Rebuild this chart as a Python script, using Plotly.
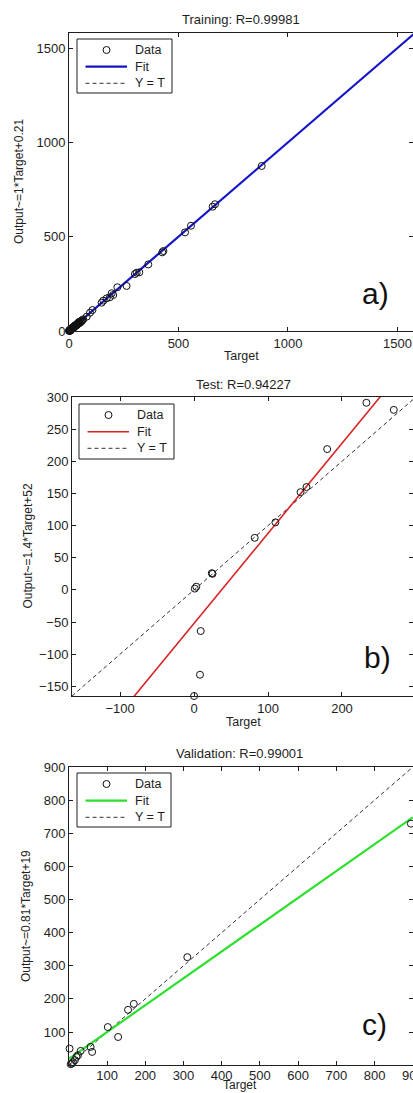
import plotly.graph_objects as go

W, H = 413, 1093
FONT = "Liberation Sans, Arial, sans-serif"
INK = "#1e1e1e"
DASH = "4px,3px"

# ---- Training set ----
train_target = [0, 2, 4, 6, 8, 10, 12, 14, 16, 18, 20, 22, 25, 27, 30, 33, 36, 39, 42, 45,
                48, 52, 55, 58, 62, 3, 7, 11, 19, 28, 35, 44, 1, 5, 9, 13, 17, 24, 31, 38,
                47, 53, 65, 81, 96, 107, 149, 157, 172, 187,
                195, 202, 221, 263, 301, 309, 321, 362, 426, 431, 530, 557, 656, 667, 880, 1580]
train_output = [1, 0, 5, 4, 9, 8, 13, 12, 15, 20, 17, 24, 22, 28, 27, 32, 33, 40, 38, 44,
                42, 50, 48, 55, 58, 6, 2, 14, 16, 31, 30, 47, 3, 2, 11, 10, 19, 21, 29, 35,
                45, 52, 62, 76, 97, 111, 150, 161, 173, 179,
                200, 191, 232, 239, 302, 309, 311, 353, 417, 424, 523, 558, 659, 672, 875, 1580]
train_fit = (1.0, 0.21)
train_lim = [0, 1580]

# ---- Test set ----
test_target = [233, 270, 180, 152, 144, 110, 82, 24, 25, 3, 1, 9, 8, 0]
test_output = [291, 280, 219, 160, 152, 105, 81, 26, 25, 5, 2, -64, -132, -165]
test_fit = (1.4, -52)
test_lim = [-165, 300]

# ---- Validation set ----
val_target = [895, 310, 170, 155, 102, 129, 57, 61, 2, 0, 31, 24, 20, 16, 11, 8, 5]
val_output = [729, 326, 185, 167, 115, 85, 55, 40, 50, 30, 43, 30, 25, 15, 9, 5, 3]
val_fit = (0.81, 19)
val_lim = [0.5, 900]

legend_labels = ["Data", "Fit", "Y = T"]

panels = [
    dict(t=train_target, o=train_output, fit=train_fit, lim=train_lim, color="#1414c8",
         title="Training: R=0.99981", ylab="Output~=1*Target+0.21", tag="a)",
         box=(69, 33, 331), xr=[0, 1571], dx=500, dy=500, fitw=2.2, standoff=0),
    dict(t=test_target, o=test_output, fit=test_fit, lim=test_lim, color="#d82424",
         title="Test: R=0.94227", ylab="Output~=1.4*Target+52", tag="b)",
         box=(72, 397, 696), xr=[-165, 296], dx=100, dy=50, fitw=1.6, standoff=0),
    dict(t=val_target, o=val_output, fit=val_fit, lim=val_lim, color="#2ee02e",
         title="Validation: R=0.99001", ylab="Output~=0.81*Target+19", tag="c)",
         box=(69, 767, 1065), xr=[0.5, 900.5], dx=100, dy=100, fitw=2.2, standoff=-2),
]

# pixel placement of titles, axis labels, panel tags and legend boxes
title_pos = [(241, 19), (243, 384), (240, 753)]
ylab_x = [19, 27, 26]
# x-axis label: (pixel y, anchor, size); the last one sits on the bottom edge of the page
xlab_y = [(356, "middle", 12.5), (722, "middle", 12.5), (1093, "bottom", 12)]
tag_pos = [(375, 294), (377, 657), (374, 1024)]
legend_box = [(77, 39, 172, 93), (79, 404, 174, 459), (77, 773, 171, 827)]


def px(x):
    return x / W


def py(y):
    return 1 - y / H


fig = go.Figure()
annotations = []
shapes = []

for i, p in enumerate(panels):
    n = "" if i == 0 else str(i + 1)
    xa, ya = "x" + n, "y" + n
    lim = p["lim"]
    m, b = p["fit"]

    fig.add_trace(go.Scatter(
        x=lim, y=lim, mode="lines", name="Y = T", xaxis=xa, yaxis=ya,
        line=dict(color="#333333", width=1, dash=DASH)))
    fig.add_trace(go.Scatter(
        x=lim, y=[m * v + b for v in lim], mode="lines", name="Fit", xaxis=xa, yaxis=ya,
        line=dict(color=p["color"], width=p["fitw"])))
    fig.add_trace(go.Scatter(
        x=p["t"], y=p["o"], mode="markers", name="Data", xaxis=xa, yaxis=ya,
        cliponaxis=False,
        marker=dict(symbol="circle-open", size=7, color="#111111", line=dict(width=1))))

    left, top, bottom = p["box"]
    axis_common = dict(showline=True, linecolor=INK, linewidth=1, mirror="ticks",
                       ticks="inside", ticklen=4, tickwidth=1, tickcolor=INK,
                       showgrid=False, zeroline=False, automargin=False,
                       tickfont=dict(family=FONT, size=13, color=INK))
    xkw = dict(axis_common, domain=[px(left), 1], range=p["xr"], anchor=ya,
               dtick=p["dx"], ticklabeloverflow="allow", ticklabelstandoff=p["standoff"])
    ykw = dict(axis_common, domain=[py(bottom), py(top)], range=lim, anchor=xa,
               dtick=p["dy"])
    fig.update_layout(**{"xaxis" + n: xkw, "yaxis" + n: ykw})

    # boxed legend: circle key, solid fit key, dashed identity key
    bx0, by0, bx1, by1 = legend_box[i]
    shapes.append(dict(type="rect", xref="paper", yref="paper",
                       x0=px(bx0), x1=px(bx1), y0=py(by1), y1=py(by0),
                       line=dict(color=INK, width=1), fillcolor="white", layer="above"))
    rows = [by0 + 11, by0 + 27.7, by0 + 44.3]
    kx0, kx1, kc = bx0 + 8.5, bx0 + 50, bx0 + 29.5
    shapes.append(dict(type="circle", xref="paper", yref="paper",
                       x0=px(kc - 3.5), x1=px(kc + 3.5), y0=py(rows[0] + 3.5), y1=py(rows[0] - 3.5),
                       line=dict(color="#111111", width=1), layer="above"))
    shapes.append(dict(type="line", xref="paper", yref="paper",
                       x0=px(kx0), x1=px(kx1), y0=py(rows[1]), y1=py(rows[1]),
                       line=dict(color=p["color"], width=p["fitw"]), layer="above"))
    shapes.append(dict(type="line", xref="paper", yref="paper",
                       x0=px(kx0), x1=px(kx1), y0=py(rows[2]), y1=py(rows[2]),
                       line=dict(color="#333333", width=1, dash=DASH), layer="above"))
    for label, ry in zip(legend_labels, rows):
        annotations.append(dict(text=label, x=px(bx0 + 56), y=py(ry), xref="paper",
                                yref="paper", showarrow=False, xanchor="left",
                                yanchor="middle",
                                font=dict(family=FONT, size=12.5, color=INK)))

    tx, ty = title_pos[i]
    annotations.append(dict(text=p["title"], x=px(tx), y=py(ty), xref="paper", yref="paper",
                            showarrow=False, xanchor="center", yanchor="middle",
                            font=dict(family=FONT, size=13, color=INK)))
    annotations.append(dict(text=p["ylab"], x=px(ylab_x[i]), y=py((top + bottom) / 2),
                            xref="paper", yref="paper", showarrow=False, textangle=-90,
                            xanchor="center", yanchor="middle",
                            font=dict(family=FONT, size=12, color=INK)))
    ly, lanchor, lsize = xlab_y[i]
    annotations.append(dict(text="Target", x=px(tx), y=py(ly), xref="paper",
                            yref="paper", showarrow=False, xanchor="center", yanchor=lanchor,
                            borderpad=0,
                            font=dict(family=FONT, size=lsize, color=INK)))
    gx, gy = tag_pos[i]
    annotations.append(dict(text=p["tag"], x=px(gx), y=py(gy), xref="paper", yref="paper",
                            showarrow=False, xanchor="center", yanchor="middle",
                            font=dict(family=FONT, size=30, color="#111111")))

fig.update_layout(
    width=W, height=H, autosize=False,
    margin=dict(l=0, r=0, t=0, b=0, pad=0, autoexpand=False),
    paper_bgcolor="white", plot_bgcolor="white",
    showlegend=False, annotations=annotations, shapes=shapes,
)

# keep the page exactly the size of the figure
page_css = (
    "document.documentElement.style.margin='0';"
    "document.documentElement.style.overflow='hidden';"
    "document.body.style.margin='0';"
    "document.body.style.overflow='hidden';"
)
fig.write_html("out.html", post_script=page_css)
